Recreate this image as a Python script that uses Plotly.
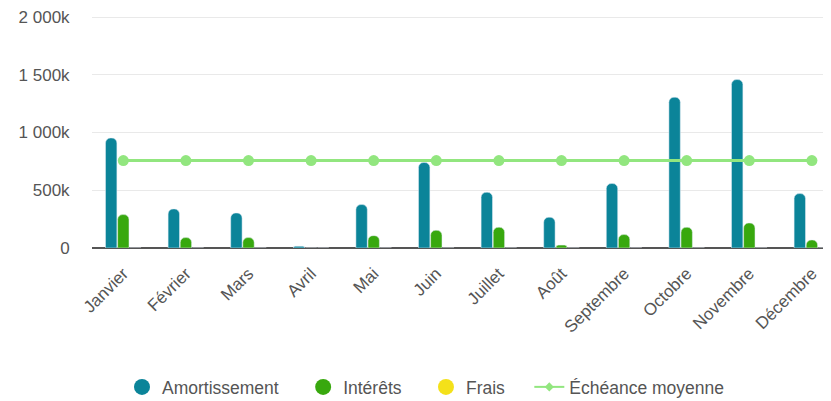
import plotly.graph_objects as go

months = ["Janvier", "Février", "Mars", "Avril", "Mai", "Juin", "Juillet",
          "Août", "Septembre", "Octobre", "Novembre", "Décembre"]
amortissement = [952000, 338000, 303000, 15000, 376000, 740000, 482000,
                 266000, 558000, 1305000, 1458000, 471000]
interets = [289000, 90000, 90000, 0, 107000, 153000, 179000,
            25000, 116000, 179000, 216000, 69000]
frais = [0, 0, 0, 0, 0, 0, 0, 0, 0, 0, 0, 0]
echeance_moyenne = [757000] * 12

y_tickvals = [0, 500000, 1000000, 1500000, 2000000]
y_ticktext = ["0", "500k", "1 000k", "1 500k", "2 000k"]

C_AM = "#0b8499"
C_IN = "#38a80e"
C_FR = "#f4e11a"
C_EM = "#92e67f"

FONT = "Liberation Sans, Arial, sans-serif"
NB = "\u00a0"

fig = go.Figure()
fig.add_trace(go.Bar(x=months, y=amortissement, marker_color=C_AM, showlegend=False))
fig.add_trace(go.Bar(x=months, y=interets, marker_color=C_IN, showlegend=False))
fig.add_trace(go.Bar(x=months, y=frais, marker_color=C_FR, showlegend=False))
fig.add_trace(go.Scatter(x=months, y=echeance_moyenne, mode="lines+markers",
                         line=dict(color=C_EM, width=3),
                         marker=dict(color=C_EM, size=11), showlegend=False))

# legend entries (circle symbols like the original)
for name, col in [("Amortissement", C_AM), ("Intérêts", C_IN), ("Frais", C_FR)]:
    fig.add_trace(go.Scatter(x=[None], y=[None], mode="markers", name=name + NB * 4,
                             marker=dict(color=col, size=16, symbol="circle")))
fig.add_trace(go.Scatter(x=[None], y=[None], mode="lines+markers", name="Échéance moyenne",
                         line=dict(color=C_EM, width=2),
                         marker=dict(color=C_EM, size=7, symbol="diamond")))

# the page body adds an 8px offset; the figure is sized to fit the window
W, H = 823, 393
L, T, B = 84, 6, 153
cat_px = 62.6
plot_w = W - L
fig.update_layout(
    width=W, height=H,
    margin=dict(l=L, r=0, t=T, b=B),
    paper_bgcolor="white", plot_bgcolor="white",
    barmode="group", bargap=0.42, bargroupgap=0.06, barcornerradius=5,
    font=dict(family=FONT, size=17, color="#555555"),
    legend=dict(orientation="h", xref="container", yref="container",
                x=114 / W, xanchor="left", y=1 - 379 / H, yanchor="middle",
                font=dict(size=17.5, color="#555555"), bgcolor="rgba(0,0,0,0)"),
    xaxis=dict(range=[-0.5, -0.5 + plot_w / cat_px], tickangle=-45,
               showgrid=False, showline=False, zeroline=False,
               ticks="outside", ticklen=8, tickcolor="rgba(0,0,0,0)",
               tickfont=dict(size=17, color="#555555")),
    yaxis=dict(range=[0, 2000000 * (1 + 3 / 231)], tickvals=y_tickvals, ticktext=y_ticktext,
               showgrid=True, gridcolor="#e9e9e9", gridwidth=1,
               zeroline=True, zerolinecolor="#555555", zerolinewidth=2,
               showline=False, ticks="outside", ticklen=18, tickcolor="rgba(0,0,0,0)",
               ticklabeloverflow="allow",
               tickfont=dict(size=17, color="#555555")),
)

fig.write_html("out.html")
